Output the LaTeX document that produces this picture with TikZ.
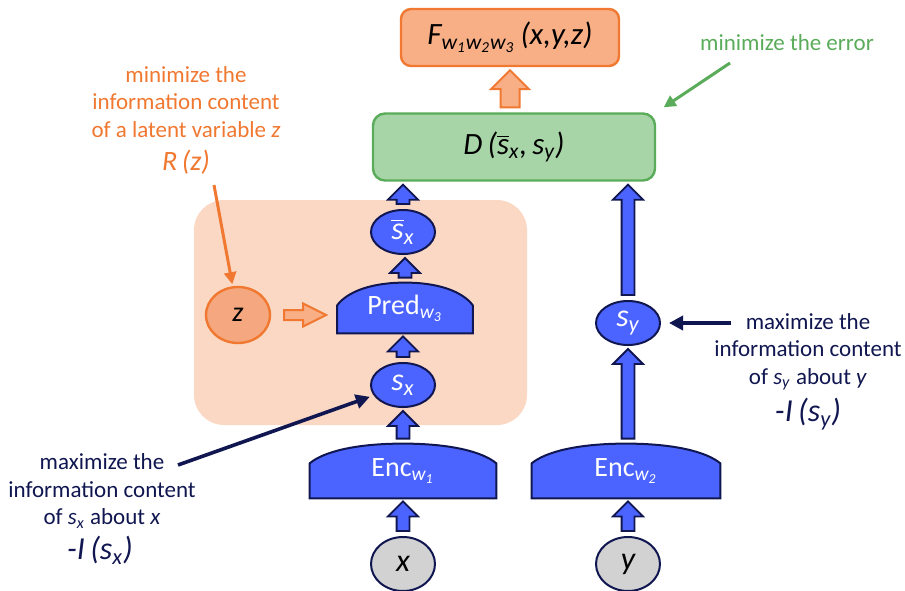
\documentclass[tikz,border=0pt]{standalone}
\usepackage{fontspec}
\setmainfont{Carlito}
\usetikzlibrary{calc,arrows.meta,backgrounds,shapes.geometric}

\definecolor{encblue}{RGB}{76,100,255}
\definecolor{navy}{RGB}{16,22,80}
\definecolor{orangeline}{RGB}{240,120,48}
\definecolor{orangefill}{RGB}{248,175,134}
\definecolor{zfill}{RGB}{245,168,128}
\definecolor{peach}{RGB}{251,216,196}
\definecolor{greenfill}{RGB}{168,213,168}
\definecolor{greenline}{RGB}{90,172,90}
\definecolor{inputgrey}{RGB}{210,210,210}

\newcommand\var[2]{\textit{#1}\textsubscript{\textit{#2}}}
\newcommand\sbar{$\overline{\hbox{\textit{s}}}$}

% block arrow pointing up: style, from, to, shaft half width, head half width
\newcommand\blockarr[5]{%
  \path[#1] let \p1=($(#2)+(0,-5)$), \p2=($(#3)+(0,3)$) in
    (\x1-#4,\y1) -- (\x1-#4,\y2-#5) -- (\x1-#5,\y2-#5) -- (\x1,\y2)
    -- (\x1+#5,\y2-#5) -- (\x1+#4,\y2-#5) -- (\x1+#4,\y1) -- cycle;}

% dome body behind a node: node, height of the straight sides
\newcommand\domeshape[2]{%
  \path[domebody] let \p1=(#1.south west), \p2=(#1.north east),
    \n1={(\x2-\x1)/2}, \n2={\y2-\y1-#2} in
    (\x1,\y1) -- (\x1,\y1+#2)
    .. controls +(0.15*\n1*1pt,0.6*\n2*1pt) and +(-0.5*\n1*1pt,0) .. (\x1+\n1*1pt,\y2)
    .. controls +(0.5*\n1*1pt,0) and +(-0.15*\n1*1pt,0.6*\n2*1pt) .. (\x2,\y1+#2)
    -- (\x2,\y1) -- cycle;}

\tikzset{
  repr/.style={ellipse, draw=navy, line width=1pt, fill=encblue, text=white,
    minimum width=32pt, minimum height=22pt, inner sep=0pt,
    font=\fontsize{16}{18}\selectfont\itshape},
  input/.style={ellipse, draw=navy, line width=1pt, fill=inputgrey,
    minimum width=32pt, minimum height=27pt, inner sep=0pt,
    font=\fontsize{16}{18}\selectfont\itshape},
  dome/.style={rectangle, inner sep=0pt, text=white, font=\fontsize{14}{16}\selectfont},
  domebody/.style={draw=navy, line width=1pt, fill=encblue},
  bluearr/.style={draw=navy, line width=0.9pt, fill=encblue},
  orangearr/.style={draw=orangeline, line width=1pt, fill=orangefill},
  note/.style={align=center, text=navy, font=\fontsize{11.5}{13.75}\selectfont},
  score/.style={text=navy, font=\fontsize{16}{18}\selectfont\itshape},
  pointer/.style={navy, line width=1.8pt, -{Triangle[length=7pt,width=7pt]}},
  zpointer/.style={orangeline, line width=1.5pt, -{Triangle[length=6pt,width=6pt]}},
  errpointer/.style={greenline, line width=1.5pt, -{Triangle[length=6pt,width=6pt]}},
}

\begin{document}
\begin{tikzpicture}[x=0.5pt,y=-0.5pt]
\useasboundingbox (0,0) rectangle (905,590);

% energy and cost boxes
\node[rectangle, rounded corners=5pt, draw=orangeline, fill=orangefill, line width=1.2pt,
  minimum width=109pt, minimum height=28.5pt, font=\fontsize{15.5}{17}\selectfont\itshape]
  (F) at (510,37.5) {F\textsubscript{w\textsubscript{1}w\textsubscript{2}w\textsubscript{3}}\,(x,y,z)};
\node[rectangle, rounded corners=6pt, draw=greenline, fill=greenfill, line width=1.2pt,
  minimum width=141pt, minimum height=33.5pt, font=\fontsize{15.5}{17}\selectfont\itshape]
  (D) at (514,147) {D\,(\sbar\textsubscript{x},\,s\textsubscript{y})};

% left branch
\node[input] (x) at (403,564) {x};
\node[dome, minimum width=93pt, minimum height=27pt] (enc1) at (403,471)
  {Enc\textsubscript{\textit{w\textsubscript{1}}}};
\node[repr] (sx) at (403,385) {s\textsubscript{x}};
\node[dome, minimum width=67.5pt, minimum height=25pt] (pred) at (405,308)
  {Pred\textsubscript{\textit{w\textsubscript{3}}}};
\node[repr] (sbarx) at (403,232) {\sbar\textsubscript{x}};
\node[ellipse, draw=orangeline, fill=zfill, line width=1.2pt, minimum width=32pt,
  minimum height=28pt, inner sep=0pt, font=\fontsize{14}{16}\selectfont\itshape]
  (z) at (238,315) {z};

% right branch
\node[input] (y) at (628,564) {y};
\node[dome, minimum width=94pt, minimum height=27pt] (enc2) at (626,471)
  {Enc\textsubscript{\textit{w\textsubscript{2}}}};
\node[repr] (sy) at (628,323) {s\textsubscript{y}};

% background and domes
\begin{scope}[on background layer]
\fill[peach, rounded corners=15pt] (194,200) rectangle (527,425);
\domeshape{enc1}{17.5pt}
\domeshape{enc2}{17.5pt}
\domeshape{pred}{14pt}
\end{scope}

% block arrows
\blockarr{bluearr}{x.north}{enc1.south}{3.2pt}{7.5pt}
\blockarr{bluearr}{enc1.north}{sx.south}{3.2pt}{7.5pt}
\blockarr{bluearr}{sx.north}{pred.south}{3.2pt}{7.5pt}
\blockarr{bluearr}{pred.north}{sbarx.south}{3.2pt}{7.5pt}
\blockarr{bluearr}{sbarx.north}{D.south -| sbarx}{3.2pt}{7.5pt}
\blockarr{bluearr}{y.north}{enc2.south -| y}{3.2pt}{7.5pt}
\blockarr{bluearr}{enc2.north -| y}{sy.south}{3.2pt}{7.5pt}
\blockarr{bluearr}{sy.north}{D.south -| sy}{3.2pt}{7.5pt}
\blockarr{orangearr}{D.north -| F}{F.south}{4.75pt}{9.5pt}
\path[orangearr] let \p1=($(z.east)+(13,0)$), \p2=($(pred.west)+(-11,0)$) in
  (\x1,\y1-2.5pt) -- (\x2-11.5pt,\y1-2.5pt) -- (\x2-11.5pt,\y1-5.75pt) -- (\x2,\y1)
  -- (\x2-11.5pt,\y1+5.75pt) -- (\x2-11.5pt,\y1+2.5pt) -- (\x1,\y1+2.5pt) -- cycle;

% notes
\node[note] (sxnote) at (102,491) {maximize the\\information content\\of \var{s}{x} about \textit{x}};
\node[score] (isx) at (100,550) {-I\,(s\textsubscript{x})};
\node[note] (synote) at (808,352) {maximize the\\information content\\of \var{s}{y} about \textit{y}};
\node[score] (isy) at (808,414) {-I\,(s\textsubscript{y})};
\node[note, text=orangeline] (znote) at (186,102) {minimize the\\information content\\of a latent variable \textit{z}};
\node[score, text=orangeline, font=\fontsize{14}{16}\selectfont\itshape] (rz) at (186,162) {R\,(z)};
\node[note, text=greenline] (errnote) at (787,43) {minimize the error};

% pointers
\coordinate (sxtail) at (178,465);
\coordinate (sytail) at (731,323);
\coordinate (ztail) at (214,185);
\coordinate (errtail) at (730,63);
\draw[pointer, shorten >=2pt] (sxtail) -- (sx);
\draw[pointer, shorten >=4pt] (sytail) -- (sy);
\draw[zpointer, shorten >=1pt] (ztail) -- (z);
\draw[errpointer, shorten >=4.5pt] (errtail) -- (D.north east);

\end{tikzpicture}
\end{document}
